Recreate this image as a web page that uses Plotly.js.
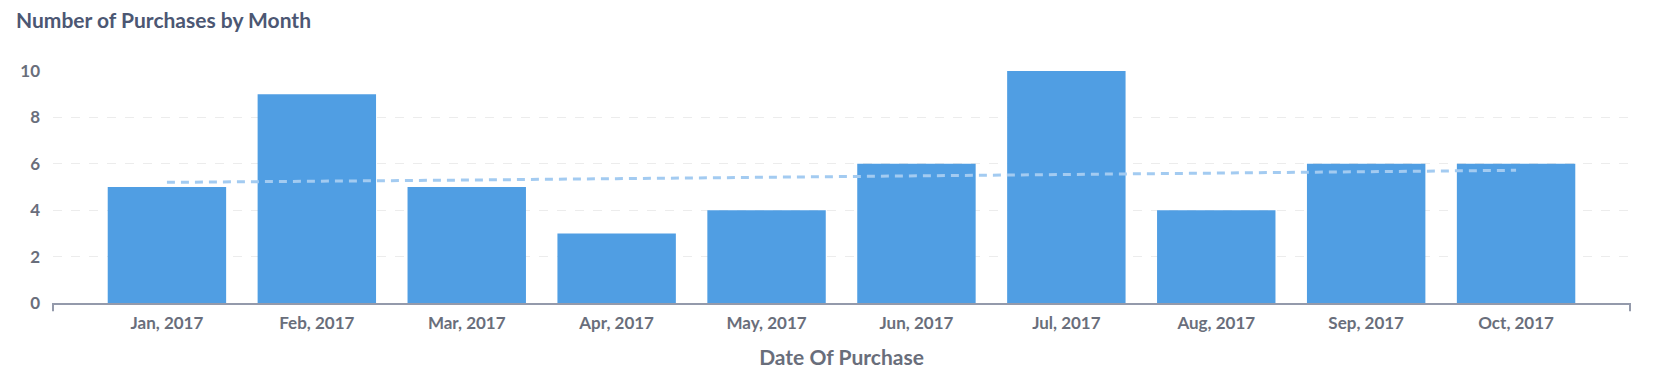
<!DOCTYPE html>
<html>
<head>
<meta charset="utf-8">
<script src="https://cdn.plot.ly/plotly-3.0.1.min.js"></script>
<style>
html,body{margin:0;padding:0;background:#fff;}
#chart{width:1668px;height:379px;}
</style>
</head>
<body>
<div id="chart"></div>
<script>
const months = ["Jan, 2017","Feb, 2017","Mar, 2017","Apr, 2017","May, 2017","Jun, 2017","Jul, 2017","Aug, 2017","Sep, 2017","Oct, 2017"];
const purchases = [5, 9, 5, 3, 4, 6, 10, 4, 6, 6];
const trend = [5.2, 5.24, 5.3, 5.36, 5.42, 5.48, 5.55, 5.6, 5.65, 5.72];
const yTicks = [0, 2, 4, 6, 8, 10];

const font = "Lato, 'Open Sans', sans-serif";

const data = [
  {
    type: "bar",
    x: months,
    y: purchases,
    marker: {color: "#509ee3"},
    hoverinfo: "x+y"
  },
  {
    type: "scatter",
    mode: "lines",
    x: months,
    y: trend,
    line: {color: "#a3cbf1", width: 3, dash: "8px,6px"},
    hoverinfo: "skip"
  }
];

const layout = {
  width: 1668,
  height: 379,
  paper_bgcolor: "#ffffff",
  plot_bgcolor: "#ffffff",
  showlegend: false,
  bargap: 0.21,
  margin: {l: 53, r: 38, t: 71, b: 76, pad: 0},
  font: {family: font, color: "#696e7b"},
  title: {
    text: "Number of Purchases by Month",
    font: {family: font, size: 21, color: "#4c5773", weight: 700},
    x: 16 / 1668, xref: "container", xanchor: "left",
    y: 1 - 21 / 379, yref: "container", yanchor: "middle"
  },
  xaxis: {
    type: "category",
    range: [-0.76, 9.76],
    showgrid: false,
    showline: true,
    linecolor: "#949aab",
    linewidth: 2,
    ticks: "",
    tickfont: {family: font, size: 17, color: "#696e7b", weight: 700},
    ticklabelstandoff: 4,
    zeroline: false,
    title: {
      text: "Date Of Purchase",
      font: {family: font, size: 21, color: "#696e7b", weight: 700},
      standoff: 18
    }
  },
  yaxis: {
    range: [0, 10],
    tickvals: yTicks,
    ticktext: yTicks.map(String),
    showgrid: true,
    gridcolor: "#ececec",
    griddash: "dash",
    gridwidth: 1,
    zeroline: false,
    showline: false,
    ticks: "",
    tickfont: {family: font, size: 17, color: "#696e7b", weight: 700},
    ticklabelstandoff: 12
  },
  shapes: [
    {type: "line", xref: "paper", yref: "paper", x0: 0, x1: 0, y0: 0, y1: -0.036,
     line: {color: "#949aab", width: 2}},
    {type: "line", xref: "paper", yref: "paper", x0: 1, x1: 1, y0: 0, y1: -0.036,
     line: {color: "#949aab", width: 2}}
  ]
};

Plotly.newPlot("chart", data, layout, {displayModeBar: false, responsive: false});
</script>
</body>
</html>
